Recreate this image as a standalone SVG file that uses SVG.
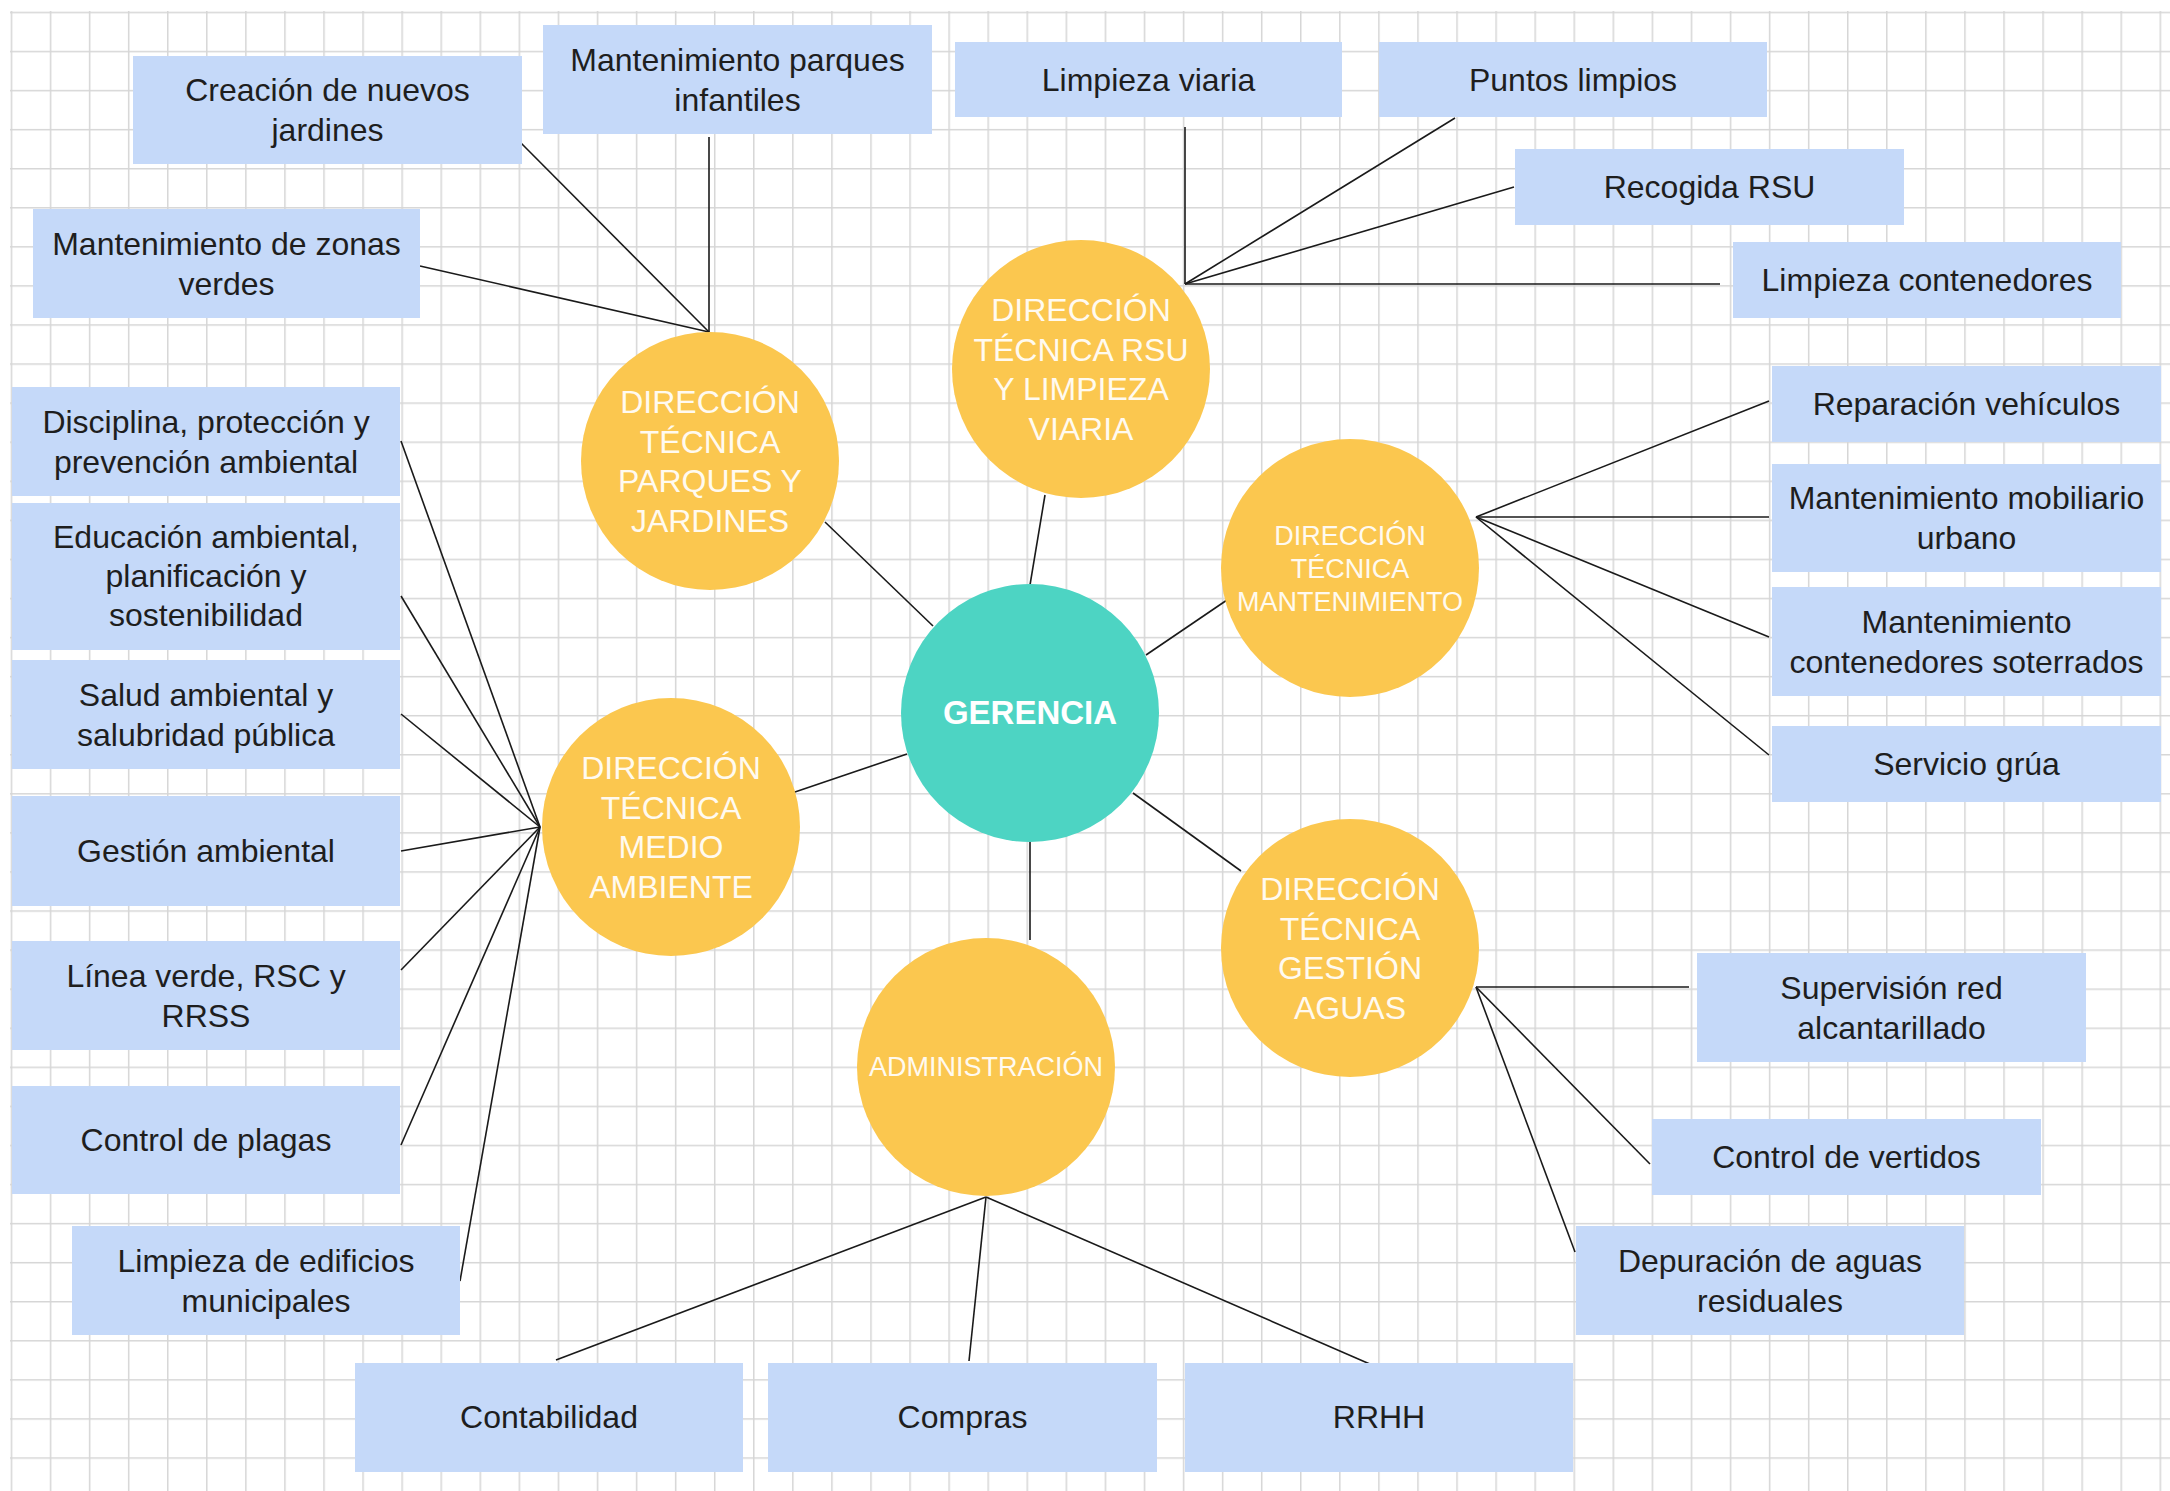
<svg xmlns="http://www.w3.org/2000/svg" width="2170" height="1491" viewBox="0 0 2170 1491">
<style>
.box{fill:#c5d9f9}
.bt{font-family:"Liberation Sans",Arial,sans-serif;font-size:32px;fill:#1e1e1e;text-anchor:middle}
.dir{fill:#fbc74f}
.ct{font-family:"Liberation Sans",Arial,sans-serif;font-size:32px;fill:#fffaf0;text-anchor:middle}
.cs{font-size:27px}
.ger{fill:#4dd4c3}
.gt{font-family:"Liberation Sans",Arial,sans-serif;font-size:33px;font-weight:bold;fill:#ffffff;text-anchor:middle}
.ln{stroke:#1a1a1a;stroke-width:1.6;fill:none}
</style>
<defs>
<pattern id="grid" patternUnits="userSpaceOnUse" x="10.7" y="11.7" width="39.07" height="39.07">
<path d="M0 0.75H39.07M0.75 0V39.07" stroke="#d6d6d6" stroke-width="1.5" fill="none"/>
</pattern>
</defs>
<rect width="2170" height="1491" fill="#ffffff"/>
<rect x="10" y="11" width="2160" height="1480" fill="url(#grid)"/>

<g id="connectors">
<line class="ln" x1="709" y1="137" x2="709" y2="332"/>
<line class="ln" x1="518" y1="140" x2="709" y2="332"/>
<line class="ln" x1="420" y1="266" x2="709" y2="332"/>
<line class="ln" x1="825" y1="522" x2="933" y2="626"/>
<line class="ln" x1="1185" y1="127" x2="1185" y2="284"/>
<line class="ln" x1="1455" y1="118" x2="1185" y2="284"/>
<line class="ln" x1="1514" y1="187" x2="1185" y2="284"/>
<line class="ln" x1="1720" y1="284" x2="1185" y2="284"/>
<line class="ln" x1="1045" y1="495" x2="1030" y2="585"/>
<line class="ln" x1="1769" y1="401" x2="1476" y2="517"/>
<line class="ln" x1="1769" y1="517" x2="1476" y2="517"/>
<line class="ln" x1="1769" y1="637" x2="1476" y2="517"/>
<line class="ln" x1="1769" y1="755" x2="1476" y2="517"/>
<line class="ln" x1="1146" y1="655" x2="1227" y2="600"/>
<line class="ln" x1="1689" y1="987" x2="1476" y2="987"/>
<line class="ln" x1="1650" y1="1164" x2="1476" y2="987"/>
<line class="ln" x1="1575" y1="1252" x2="1476" y2="987"/>
<line class="ln" x1="1133" y1="793" x2="1241" y2="871"/>
<line class="ln" x1="556" y1="1360" x2="986" y2="1197"/>
<line class="ln" x1="969" y1="1361" x2="986" y2="1197"/>
<line class="ln" x1="1379" y1="1368" x2="986" y2="1197"/>
<line class="ln" x1="1030" y1="841" x2="1030" y2="940"/>
<line class="ln" x1="401" y1="441" x2="540" y2="827"/>
<line class="ln" x1="401" y1="596" x2="540" y2="827"/>
<line class="ln" x1="401" y1="714" x2="540" y2="827"/>
<line class="ln" x1="401" y1="851" x2="540" y2="827"/>
<line class="ln" x1="401" y1="970" x2="540" y2="827"/>
<line class="ln" x1="401" y1="1145" x2="540" y2="827"/>
<line class="ln" x1="460" y1="1281" x2="540" y2="827"/>
<line class="ln" x1="792" y1="793" x2="907" y2="754"/>
</g>

<g id="gerencia"><circle class="ger" cx="1030" cy="713" r="129"/><text class="gt" x="1030" y="724">GERENCIA</text></g>
<g id="dt-parques"><circle class="dir" cx="710" cy="461" r="129"/><text class="ct" x="710" y="413">DIRECCIÓN<tspan x="710" dy="39.5">TÉCNICA</tspan><tspan x="710" dy="39.5">PARQUES Y</tspan><tspan x="710" dy="39.5">JARDINES</tspan></text></g>
<g id="dt-rsu"><circle class="dir" cx="1081" cy="369" r="129"/><text class="ct" x="1081" y="321">DIRECCIÓN<tspan x="1081" dy="39.5">TÉCNICA RSU</tspan><tspan x="1081" dy="39.5">Y LIMPIEZA</tspan><tspan x="1081" dy="39.5">VIARIA</tspan></text></g>
<g id="dt-mantenimiento"><circle class="dir" cx="1350" cy="568" r="129"/><text class="ct cs" x="1350" y="545">DIRECCIÓN<tspan x="1350" dy="33">TÉCNICA</tspan><tspan x="1350" dy="33">MANTENIMIENTO</tspan></text></g>
<g id="dt-medio-ambiente"><circle class="dir" cx="671" cy="827" r="129"/><text class="ct" x="671" y="779">DIRECCIÓN<tspan x="671" dy="39.5">TÉCNICA</tspan><tspan x="671" dy="39.5">MEDIO</tspan><tspan x="671" dy="39.5">AMBIENTE</tspan></text></g>
<g id="dt-aguas"><circle class="dir" cx="1350" cy="948" r="129"/><text class="ct" x="1350" y="900">DIRECCIÓN<tspan x="1350" dy="39.5">TÉCNICA</tspan><tspan x="1350" dy="39.5">GESTIÓN</tspan><tspan x="1350" dy="39.5">AGUAS</tspan></text></g>
<g id="administracion"><circle class="dir" cx="986" cy="1067" r="129"/><text class="ct cs" x="986" y="1076">ADMINISTRACIÓN</text></g>

<g id="b-creacion"><rect class="box" x="133" y="56" width="389" height="108"/><text class="bt" x="327.5" y="101">Creación de nuevos<tspan x="327.5" dy="40">jardines</tspan></text></g>
<g id="b-parques-infantiles"><rect class="box" x="543" y="25" width="389" height="109"/><text class="bt" x="737.5" y="71">Mantenimiento parques<tspan x="737.5" dy="40">infantiles</tspan></text></g>
<g id="b-limpieza-viaria"><rect class="box" x="955" y="42" width="387" height="75"/><text class="bt" x="1148.5" y="91">Limpieza viaria</text></g>
<g id="b-puntos-limpios"><rect class="box" x="1379" y="42" width="388" height="75"/><text class="bt" x="1573" y="91">Puntos limpios</text></g>
<g id="b-recogida"><rect class="box" x="1515" y="149" width="389" height="76"/><text class="bt" x="1709.5" y="198">Recogida RSU</text></g>
<g id="b-limpieza-contenedores"><rect class="box" x="1733" y="242" width="388" height="76"/><text class="bt" x="1927" y="291">Limpieza contenedores</text></g>
<g id="b-zonas-verdes"><rect class="box" x="33" y="209" width="387" height="109"/><text class="bt" x="226.5" y="255">Mantenimiento de zonas<tspan x="226.5" dy="40">verdes</tspan></text></g>
<g id="b-disciplina"><rect class="box" x="12" y="387" width="388" height="109"/><text class="bt" x="206" y="433">Disciplina, protección y<tspan x="206" dy="40">prevención ambiental</tspan></text></g>
<g id="b-educacion"><rect class="box" x="12" y="503" width="388" height="147"/><text class="bt" x="206" y="548">Educación ambiental,<tspan x="206" dy="39">planificación y</tspan><tspan x="206" dy="39">sostenibilidad</tspan></text></g>
<g id="b-salud"><rect class="box" x="12" y="660" width="388" height="109"/><text class="bt" x="206" y="706">Salud ambiental y<tspan x="206" dy="40">salubridad pública</tspan></text></g>
<g id="b-gestion-ambiental"><rect class="box" x="12" y="796" width="388" height="110"/><text class="bt" x="206" y="862">Gestión ambiental</text></g>
<g id="b-linea-verde"><rect class="box" x="12" y="941" width="388" height="109"/><text class="bt" x="206" y="987">Línea verde, RSC y<tspan x="206" dy="40">RRSS</tspan></text></g>
<g id="b-plagas"><rect class="box" x="12" y="1086" width="388" height="108"/><text class="bt" x="206" y="1151">Control de plagas</text></g>
<g id="b-edificios"><rect class="box" x="72" y="1226" width="388" height="109"/><text class="bt" x="266" y="1272">Limpieza de edificios<tspan x="266" dy="40">municipales</tspan></text></g>
<g id="b-contabilidad"><rect class="box" x="355" y="1363" width="388" height="109"/><text class="bt" x="549" y="1428">Contabilidad</text></g>
<g id="b-compras"><rect class="box" x="768" y="1363" width="389" height="109"/><text class="bt" x="962.5" y="1428">Compras</text></g>
<g id="b-rrhh"><rect class="box" x="1185" y="1363" width="388" height="109"/><text class="bt" x="1379" y="1428">RRHH</text></g>
<g id="b-depuracion"><rect class="box" x="1576" y="1226" width="388" height="109"/><text class="bt" x="1770" y="1272">Depuración de aguas<tspan x="1770" dy="40">residuales</tspan></text></g>
<g id="b-vertidos"><rect class="box" x="1652" y="1119" width="389" height="76"/><text class="bt" x="1846.5" y="1168">Control de vertidos</text></g>
<g id="b-alcantarillado"><rect class="box" x="1697" y="953" width="389" height="109"/><text class="bt" x="1891.5" y="999">Supervisión red<tspan x="1891.5" dy="40">alcantarillado</tspan></text></g>
<g id="b-reparacion"><rect class="box" x="1772" y="366" width="389" height="76"/><text class="bt" x="1966.5" y="415">Reparación vehículos</text></g>
<g id="b-mobiliario"><rect class="box" x="1772" y="464" width="389" height="108"/><text class="bt" x="1966.5" y="509">Mantenimiento mobiliario<tspan x="1966.5" dy="40">urbano</tspan></text></g>
<g id="b-soterrados"><rect class="box" x="1772" y="587" width="389" height="109"/><text class="bt" x="1966.5" y="633">Mantenimiento<tspan x="1966.5" dy="40">contenedores soterrados</tspan></text></g>
<g id="b-grua"><rect class="box" x="1772" y="726" width="389" height="76"/><text class="bt" x="1966.5" y="775">Servicio grúa</text></g>
</svg>
